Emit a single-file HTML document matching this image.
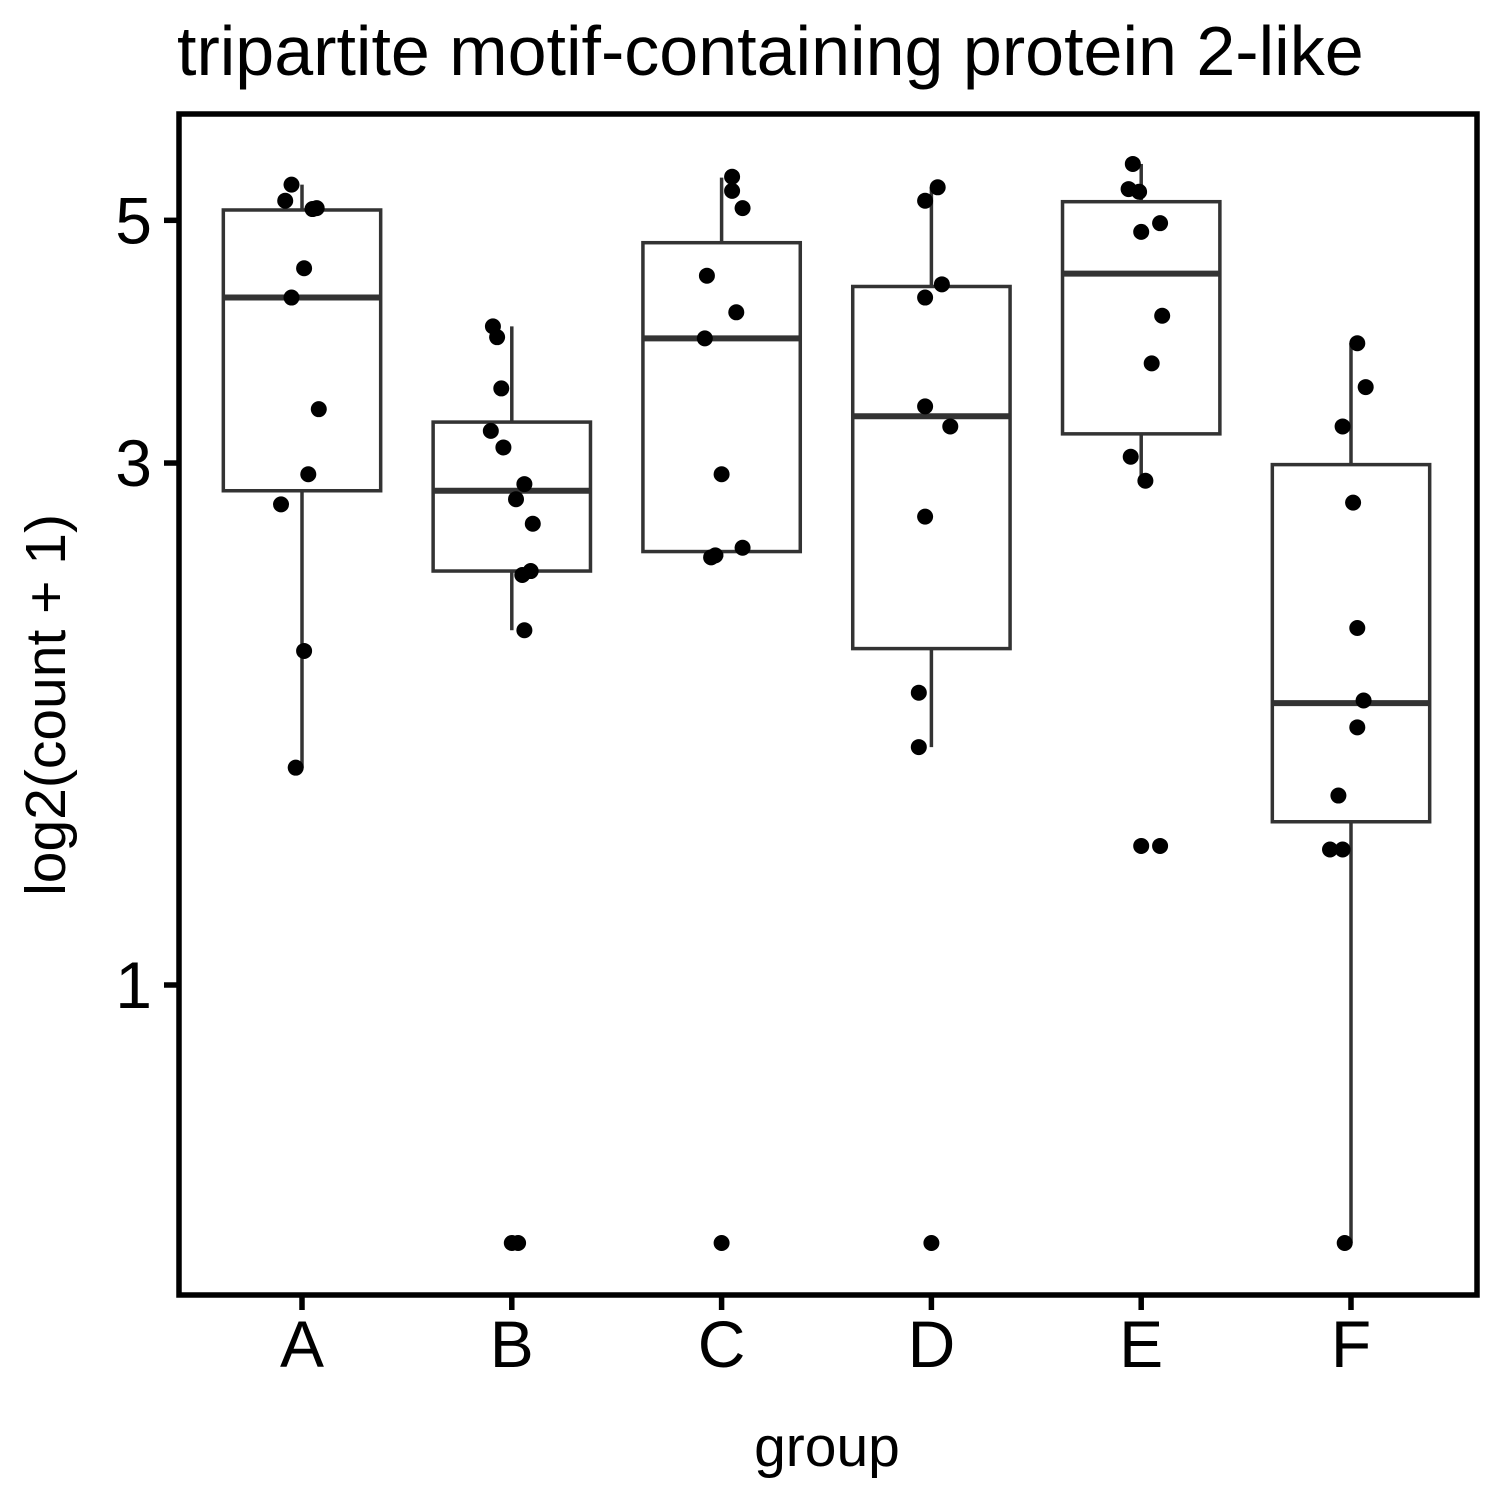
<!DOCTYPE html>
<html><head><meta charset="utf-8"><style>
body{margin:0;background:#fff}
svg text{font-family:"Liberation Sans",sans-serif}
</style></head><body>
<svg id="chart" width="1500" height="1500" viewBox="0 0 1500 1500">
<rect width="1500" height="1500" fill="#fff"/>
<text x="177" y="75" font-size="70" fill="#000">tripartite motif-containing protein 2-like</text>
<g id="marks"></g>
<rect x="179" y="114" width="1298" height="1181" fill="none" stroke="#000" stroke-width="5.5"/>
<g id="axes"></g>
<text transform="translate(65,705) rotate(-90)" text-anchor="middle" font-size="57" fill="#000">log2(count + 1)</text>
<text x="827" y="1466" text-anchor="middle" font-size="57" fill="#000">group</text>
</svg>
<script>
const categories = ["A","B","C","D","E","F"];
const yTicks = [1,3,5];
const boxLower = [2.83,2.39,2.49,2.03,3.19,1.41];
const boxMedian = [4.25,2.83,3.90,3.31,4.47,1.81];
const boxUpper = [5.11,3.27,4.77,4.35,5.20,2.99];
const whiskerLow = [1.58,2.11,2.46,1.65,2.88,0.581];
const whiskerHigh = [5.39,4.00,5.47,5.36,5.63,3.86];
const pointsA = [5.39,5.21,5.12,5.13,4.52,4.25,3.36,2.93,2.75,2.02,1.58];
const pointsB = [4.00,3.91,3.51,3.21,3.10,2.87,2.78,2.64,2.39,2.37,2.11,0.581,0.581];
const pointsC = [5.48,5.32,5.13,4.45,4.12,3.90,2.93,2.51,2.46,2.47,0.581];
const pointsD = [5.36,5.21,4.37,4.25,3.38,3.24,2.68,1.85,1.65,0.581];
const pointsE = [5.63,5.34,5.31,4.97,4.88,4.09,3.70,3.04,2.89,1.34,1.34];
const pointsF = [3.86,3.52,3.24,2.76,2.12,1.82,1.72,1.49,1.33,1.33,0.581];
const jitterA = [-0.05,-0.08,0.05,0.07,0.01,-0.05,0.08,0.03,-0.1,0.01,-0.03];
const jitterB = [-0.09,-0.07,-0.05,-0.1,-0.04,0.06,0.02,0.1,0.09,0.05,0.06,0,0.03];
const jitterC = [0.05,0.05,0.1,-0.07,0.07,-0.08,0,0.1,-0.05,-0.03,0];
const jitterD = [0.03,-0.03,0.05,-0.03,-0.03,0.09,-0.03,-0.06,-0.06,0];
const jitterE = [-0.04,-0.06,-0.01,0.09,0,0.1,0.05,-0.05,0.02,0,0.09];
const jitterF = [0.03,0.07,-0.04,0.01,0.03,0.06,0.03,-0.06,-0.1,-0.04,-0.03];
const allPoints=[pointsA,pointsB,pointsC,pointsD,pointsE,pointsF];
const allJitter=[jitterA,jitterB,jitterC,jitterD,jitterE,jitterF];

const NS="http://www.w3.org/2000/svg";
function yScale(v){return 985-1094*Math.log10(v);}
function xScale(i){return 302+i*209.8;}
const band=209.8;
const marks=document.getElementById('marks');
const axes=document.getElementById('axes');
function mk(tag,attrs,parent){const e=document.createElementNS(NS,tag);for(const k in attrs)e.setAttribute(k,attrs[k]);parent.appendChild(e);return e;}

categories.forEach((c,i)=>{
  const cx=xScale(i), hw=band*0.375;
  const g=mk('g',{},marks);
  
  
  const w1=mk('line',{x1:cx,x2:cx,y1:yScale(whiskerHigh[i]),y2:yScale(boxUpper[i]),stroke:'#333','stroke-width':3.5},g);
  
  
  const w2=mk('line',{x1:cx,x2:cx,y1:yScale(boxLower[i]),y2:yScale(whiskerLow[i]),stroke:'#333','stroke-width':3.5},g);
  
  
  const r=mk('rect',{x:cx-hw,y:yScale(boxUpper[i]),width:2*hw,height:yScale(boxLower[i])-yScale(boxUpper[i]),fill:'#fff',stroke:'#333','stroke-width':3.5},g);
  
  
  const m=mk('line',{x1:cx-hw,x2:cx+hw,y1:yScale(boxMedian[i]),y2:yScale(boxMedian[i]),stroke:'#333','stroke-width':6},g);
  
  
  allPoints[i].forEach((v,j)=>{
    const p=mk('circle',{cx:cx+allJitter[i][j]*band,cy:yScale(v),r:8,fill:'#000'},g);
    
    
  });
  const t=mk('line',{x1:cx,x2:cx,y1:1297,y2:1310,stroke:'#000','stroke-width':5.5},axes);
  
  
  const l=mk('text',{x:cx,y:1367,'text-anchor':'middle','font-size':66,fill:'#000'},axes);
  l.textContent=c;
  
  
});
yTicks.forEach(v=>{
  const y=yScale(v);
  const t=mk('line',{x1:164,x2:177,y1:y,y2:y,stroke:'#000','stroke-width':5.5},axes);
  
  
  const l=mk('text',{x:152,y:y+23,'text-anchor':'end','font-size':66,fill:'#000'},axes);
  l.textContent=v;
  
  
});
</script>
</body></html>
